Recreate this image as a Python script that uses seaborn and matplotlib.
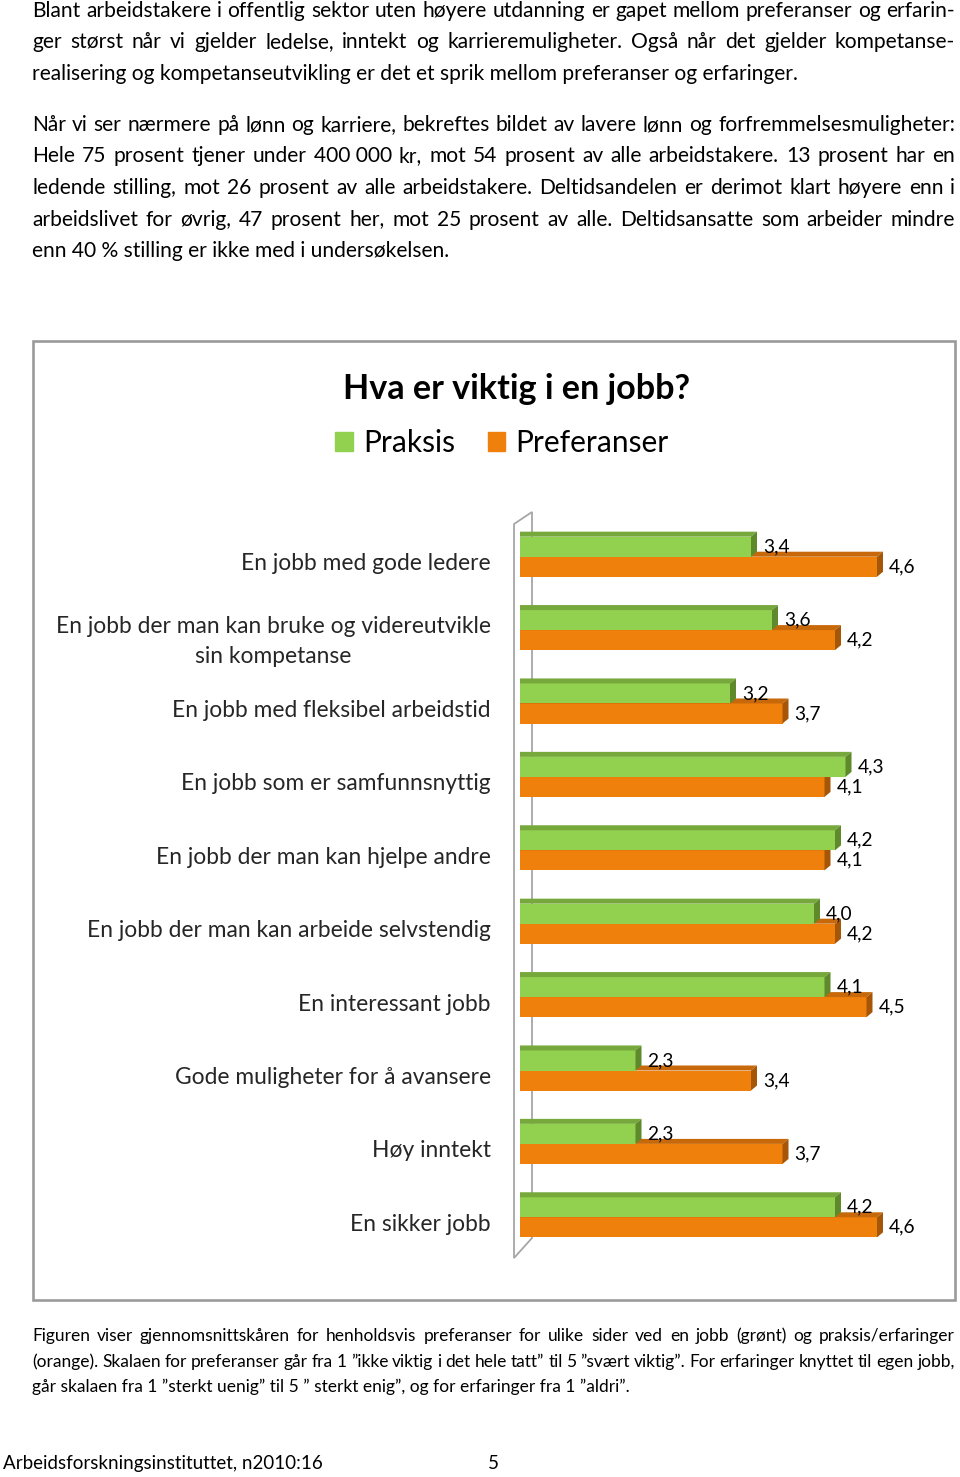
import numpy as np
import pandas as pd
import matplotlib
matplotlib.use("Agg")
import matplotlib.pyplot as plt
import matplotlib.patches as mpatches
import matplotlib.transforms as mtransforms
import seaborn as sns

# ============================================================
# Page from report: body text + 3D-style bar chart "Hva er viktig i en jobb?"
# ============================================================

W, H = 960, 1477

categories = [
    "En jobb med gode ledere",
    "En jobb der man kan bruke og videreutvikle\nsin kompetanse",
    "En jobb med fleksibel arbeidstid",
    "En jobb som er samfunnsnyttig",
    "En jobb der man kan hjelpe andre",
    "En jobb der man kan arbeide selvstendig",
    "En interessant jobb",
    "Gode muligheter for å avansere",
    "Høy inntekt",
    "En sikker jobb",
]
praksis = [3.4, 3.6, 3.2, 4.3, 4.2, 4.0, 4.1, 2.3, 2.3, 4.2]
preferanser = [4.6, 4.2, 3.7, 4.1, 4.1, 4.2, 4.5, 3.4, 3.7, 4.6]
series = ["Praksis", "Preferanser"]

title = "Hva er viktig i en jobb?"

para1 = [
    "Blant arbeidstakere i offentlig sektor uten høyere utdanning er gapet mellom preferanser og erfarin-",
    "ger størst når vi gjelder ledelse, inntekt og karrieremuligheter. Også når det gjelder kompetanse-",
    "realisering og kompetanseutvikling er det et sprik mellom preferanser og erfaringer.",
]
para2 = [
    "Når vi ser nærmere på lønn og karriere, bekreftes bildet av lavere lønn og forfremmelsesmuligheter:",
    "Hele 75 prosent tjener under 400\u00a0000 kr, mot 54 prosent av alle arbeidstakere. 13 prosent har en",
    "ledende stilling, mot 26 prosent av alle arbeidstakere. Deltidsandelen er derimot klart høyere enn i",
    "arbeidslivet for øvrig, 47 prosent her, mot 25 prosent av alle. Deltidsansatte som arbeider mindre",
    "enn 40\u00a0% stilling er ikke med i undersøkelsen.",
]
footnote = [
    "Figuren viser gjennomsnittskåren for henholdsvis preferanser for ulike sider ved en jobb (grønt) og praksis/erfaringer",
    "(orange). Skalaen for preferanser går fra 1 ”ikke viktig i det hele tatt” til 5 ”svært viktig”. For erfaringer knyttet til egen jobb,",
    "går skalaen fra 1 ”sterkt uenig” til 5 ” sterkt enig”, og for erfaringer fra 1 ”aldri”.",
]
footer_left = "Arbeidsforskningsinstituttet, n2010:16"
footer_page = "5"

# colours: front face, top face, side face
GREEN = ("#92D050", "#76A83C", "#5E8A2C")
ORANGE = ("#F0800C", "#C7690A", "#A55607")


def px(x, y):
    """Page pixel (from top-left) -> figure fraction."""
    return x / W, 1 - y / H


def fit_size(fig, renderer, text, target_px, **kw):
    """Font size that gives the text the wanted width in pixels."""
    t = fig.text(0, 0, text, fontsize=12, **kw)
    w = t.get_window_extent(renderer).width
    t.remove()
    return 12 * target_px / w


def text_block(fig, renderer, lines, x0, x1, y0, step, size):
    """Justified paragraph; last line left aligned."""
    for i, line in enumerate(lines):
        y = y0 + i * step
        if i == len(lines) - 1:
            fig.text(*px(x0, y), line, fontsize=size, va="baseline", ha="left")
            continue
        words = line.split(" ")
        objs = [fig.text(*px(x0, y), w, fontsize=size, va="baseline", ha="left")
                for w in words]
        widths = [o.get_window_extent(renderer).width for o in objs]
        gap = (x1 - x0 - sum(widths)) / (len(words) - 1)
        x = x0
        for o, w in zip(objs, widths):
            o.set_x(x / W)
            x += w + gap


def main():
    sns.set_theme(style="white")
    plt.rcParams["font.family"] = ["Lato", "DejaVu Sans"]
    plt.rcParams["text.color"] = "black"

    fig = plt.figure(figsize=(W / 100, H / 100), dpi=100)
    fig.patch.set_facecolor("white")
    renderer = fig.canvas.get_renderer()

    # --- page text ---
    body = fit_size(fig, renderer, para1[-1], 765)
    small = fit_size(fig, renderer, footnote[-1], 593)
    foot = fit_size(fig, renderer, footer_left, 318)
    text_block(fig, renderer, para1, 32, 955, 17, 31.3, body)
    text_block(fig, renderer, para2, 32, 955, 131, 31.5, body)
    text_block(fig, renderer, footnote, 32, 955, 1341, 25.7, small)
    fig.text(*px(3, 1469), footer_left, fontsize=foot, va="baseline", ha="left")
    fig.text(*px(488, 1469), footer_page, fontsize=foot, va="baseline", ha="left")

    # --- chart frame ---
    x0, y0 = px(33, 1300)
    fig.add_artist(mpatches.Rectangle(
        (x0, y0), (955 - 33) / W, (1300 - 341) / H, transform=fig.transFigure,
        facecolor="white", edgecolor="#9a9a9a", linewidth=1.9, zorder=-1))

    fig.text(*px(517, 399), title, fontsize=24.6, fontweight="bold",
             ha="center", va="baseline")

    handles = [mpatches.Patch(color=GREEN[0], label=series[0]),
               mpatches.Patch(color=ORANGE[0], label=series[1])]
    fig.legend(handles=handles, loc="center", bbox_to_anchor=px(502, 443),
               ncol=2, frameon=False, fontsize=21.5, handlelength=0.58,
               handleheight=0.58, handletextpad=0.35, columnspacing=1.1)

    # --- bars ---
    df = pd.DataFrame({
        "kategori": categories * 2,
        "serie": [series[0]] * len(categories) + [series[1]] * len(categories),
        "verdi": praksis + preferanser,
    })

    ax = fig.add_axes([520 / W, 1 - 1254 / H, (919 - 520) / W, (1254 - 520) / H])
    ax.set_facecolor("none")
    sns.barplot(data=df, y="kategori", x="verdi", hue="serie", orient="h",
                hue_order=series, order=categories, width=0.546, gap=0,
                palette={series[0]: GREEN[0], series[1]: ORANGE[0]},
                saturation=1, legend=False, ax=ax, errorbar=None)
    ax.set_xlim(1.2, 5.0)
    ax.set_ylim(len(categories) - 0.5, -0.5)

    # depth offset (6 px right, 5 px up) in data units
    px_x = ax.bbox.width / (5.0 - 1.2)
    px_y = ax.bbox.height / len(categories)
    ddx, ddy = 6 / px_x, 5 / px_y

    for cont, cols, z in [(ax.containers[1], ORANGE, 2), (ax.containers[0], GREEN, 3)]:
        for bar in cont:
            bx, by = bar.get_x(), bar.get_y()
            bw, bh = bar.get_width(), bar.get_height()
            bar.set_zorder(z)
            bar.set_edgecolor("none")
            top = [(bx, by), (bx + bw, by), (bx + bw + ddx, by - ddy), (bx + ddx, by - ddy)]
            side = [(bx + bw, by), (bx + bw + ddx, by - ddy),
                    (bx + bw + ddx, by + bh - ddy), (bx + bw, by + bh)]
            ax.add_patch(mpatches.Polygon(top, closed=True, facecolor=cols[1],
                                          edgecolor="none", zorder=z))
            ax.add_patch(mpatches.Polygon(side, closed=True, facecolor=cols[2],
                                          edgecolor="none", zorder=z))
            ax.annotate(f"{bw:.1f}".replace(".", ","),
                        xy=(bx + bw, by + bh / 2), xytext=(8.5, 0),
                        textcoords="offset points", va="center", ha="left",
                        fontsize=13.8, zorder=5, annotation_clip=False)

    # 3D wall on the left
    wall = [px(514, 524), px(532, 512), px(532, 1238), px(514, 1258)]
    ax.add_patch(mpatches.Polygon(wall, closed=True, fill=False,
                                  edgecolor="#a6a6a6", linewidth=1.3,
                                  transform=fig.transFigure, clip_on=False,
                                  zorder=0.5))

    for s in ax.spines.values():
        s.set_visible(False)
    ax.set_xticks([])
    ax.set_xlabel("")
    ax.set_ylabel("")
    ax.tick_params(axis="y", length=0, pad=21, labelsize=16.4)
    shift = mtransforms.ScaledTranslation(0, -5 / 100, fig.dpi_scale_trans)
    for lab in ax.get_yticklabels():
        lab.set_multialignment("center")
        lab.set_linespacing(1.55)
        lab.set_transform(lab.get_transform() + shift)

    fig.savefig("out.png", dpi=100)


if __name__ == "__main__":
    main()
